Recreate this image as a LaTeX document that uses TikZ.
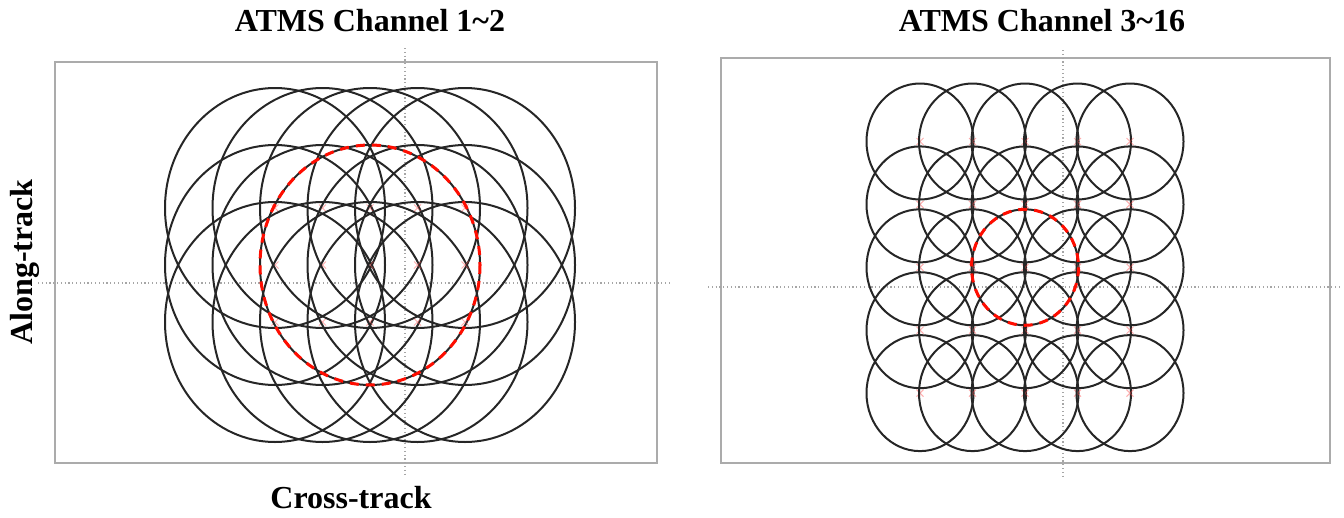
\documentclass[tikz,border=0pt]{standalone}
\usepackage{fontspec}
\setmainfont{Liberation Serif}
\begin{document}
\begin{tikzpicture}[x=1pt,y=-1pt,
  panelframe/.style={draw=black!33, line width=1.4pt},
  axisline/.style={draw=black!35, line width=1.2pt, dash pattern=on 1.2pt off 2.6pt},
  foot/.style={draw=black!85, line width=2pt},
  redfoot/.style={draw=red!90!orange, line width=3pt, dash pattern=on 9pt off 7pt},
  ctr/.style={draw=red!70, opacity=0.45, line width=1pt},
  lbl/.style={font=\fontsize{32}{36}\selectfont\bfseries, inner sep=0pt}]
\useasboundingbox (0,0) rectangle (1344,517);

% ---------- left panel ----------
\draw[panelframe] (55,62) rectangle (657,463);
\draw[axisline] (405,48) -- (405,476);
\draw[axisline] (38,283) -- (670,283);
\foreach \i in {0,...,4}{
  \foreach \j in {0,1,2}{
    \pgfmathsetmacro{\cx}{275+47.5*\i}
    \pgfmathsetmacro{\cy}{208+57*\j}
    \draw[foot] (\cx,\cy) ellipse [x radius=110, y radius=120];
    \draw[ctr] (\cx-3.5,\cy-3.5) -- (\cx+3.5,\cy+3.5) (\cx-3.5,\cy+3.5) -- (\cx+3.5,\cy-3.5);
  }
}
\draw[redfoot] (370,265) ellipse [x radius=110, y radius=120];

% ---------- right panel ----------
\draw[panelframe] (721,58) rectangle (1330,463);
\draw[axisline] (1063,50) -- (1063,476);
\draw[axisline] (708,287) -- (1340,287);
\foreach \i in {0,...,4}{
  \foreach \j in {0,...,4}{
    \pgfmathsetmacro{\cx}{920+52.5*\i}
    \pgfmathsetmacro{\cy}{141.5+62.9*\j}
    \draw[foot] (\cx,\cy) ellipse [x radius=53.5, y radius=58];
    \draw[ctr] (\cx-3.5,\cy-3.5) -- (\cx+3.5,\cy+3.5) (\cx-3.5,\cy+3.5) -- (\cx+3.5,\cy-3.5);
  }
}
\draw[redfoot] (1025,267.3) ellipse [x radius=53.5, y radius=58];

% ---------- labels ----------
\node[lbl, anchor=base] (titleL) at (370,31) {ATMS Channel 1\textasciitilde 2};
\node[lbl, anchor=base] (titleR) at (1042,31) {ATMS Channel 3\textasciitilde 16};
\node[lbl, anchor=base] (xlab) at (351,508) {Cross-track};
\node[lbl, anchor=base, rotate=90] (ylab) at (32,262) {Along-track};
\end{tikzpicture}
\end{document}
